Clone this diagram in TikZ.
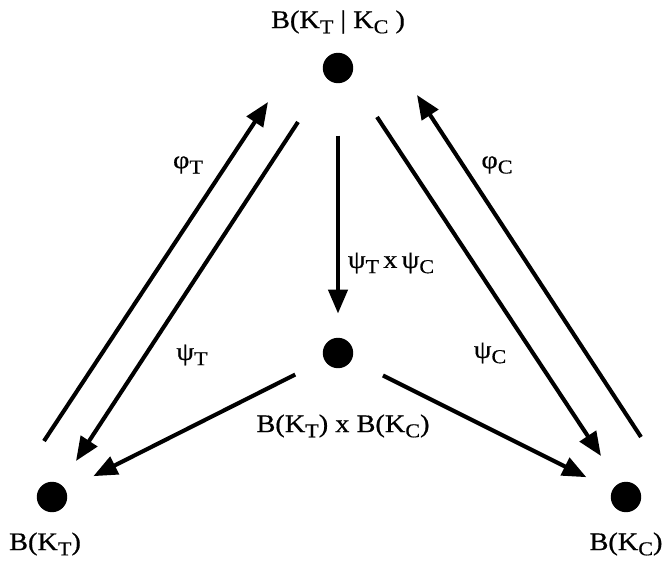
\documentclass[tikz,border=0pt]{standalone}
\usepackage{fontspec}
\setmainfont[FakeStretch=1.12, FakeBold=0.6]{Liberation Serif}
\usetikzlibrary{arrows.meta}
\newcommand{\lo}[1]{\raisebox{-0.45ex}{\fontsize{14}{15}\selectfont #1}}

\begin{document}
\begin{tikzpicture}[
  x=0.025cm, y=-0.025cm,
  dot/.style  ={circle, fill=black, inner sep=0pt, minimum size=0.76cm},
  lbl/.style  ={font=\fontsize{18}{20}\selectfont, inner sep=0pt},
  arr/.style  ={-{Triangle[length=0.6cm, width=0.48cm]}, line width=2.9pt},
]
\useasboundingbox (0,0) rectangle (667,567);

%% puntos
\node[dot] (top) at (338, 68)  {};
\node[dot] (mid) at (338, 353) {};
\node[dot] (bl)  at (52, 497)  {};
\node[dot] (br)  at (626, 497) {};

%% etiquetas de los puntos
\node[lbl] (Ltop) at (338, 22)  {B(K\lo{T} | K\lo{C} )};
\node[lbl] (Lmid) at (343, 426) {B(K\lo{T}) x B(K\lo{C})};
\node[lbl] (Lbl)  at (45, 544)  {B(K\lo{T})};
\node[lbl] (Lbr)  at (626, 544) {B(K\lo{C})};

%% extremos de las flechas paralelas
\coordinate (phiT-a) at (44, 441);  \coordinate (phiT-b) at (268, 102);
\coordinate (psiT-a) at (298, 122); \coordinate (psiT-b) at (76, 461);
\coordinate (psiC-a) at (377, 117); \coordinate (psiC-b) at (601, 456);
\coordinate (phiC-a) at (641, 437); \coordinate (phiC-b) at (417, 95);

\draw[arr] (phiT-a) -- (phiT-b);
\draw[arr] (psiT-a) -- (psiT-b);
\draw[arr] (psiC-a) -- (psiC-b);
\draw[arr] (phiC-a) -- (phiC-b);

\draw[arr, shorten <=1.3cm, shorten >=0.6cm] (top) -- (mid);
\draw[arr, shorten <=0.81cm, shorten >=0.77cm] (mid) -- (bl);
\draw[arr, shorten <=0.87cm, shorten >=0.72cm] (mid) -- (br);

%% etiquetas de las flechas
\node[lbl] (LphiT) at (188, 165) {φ\lo{T}};
\node[lbl] (LpsiT) at (192, 355) {ψ\lo{T}};
\node[lbl] (LphiC) at (497, 165) {φ\lo{C}};
\node[lbl] (LpsiC) at (490, 353) {ψ\lo{C}};
\node[lbl] (Lprod) at (391, 263) {ψ\lo{T}\,x\,ψ\lo{C}};

\end{tikzpicture}
\end{document}
